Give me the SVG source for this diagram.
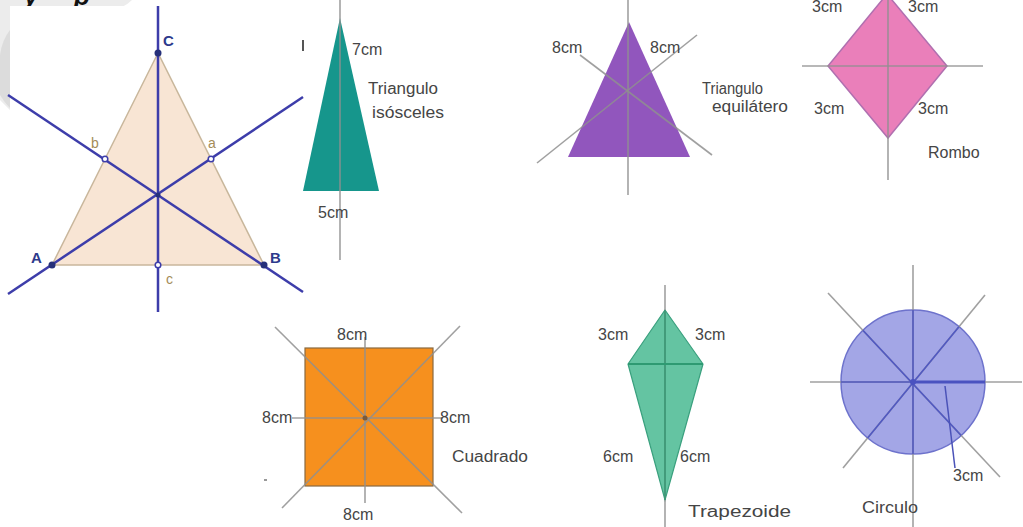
<svg xmlns="http://www.w3.org/2000/svg" width="1023" height="527" viewBox="0 0 1023 527">
<style>
text{font-family:"Liberation Sans",Arial,sans-serif}
.lbl{font-size:16px;fill:#454545}
.gl{stroke:#8f8f8f;stroke-width:1.6;fill:none;opacity:.85}
.bl{stroke:#3d3daa;stroke-width:2.5;fill:none}
.pt{fill:#26307a}
.op{fill:#ffffff;stroke:#3d3daa;stroke-width:1.5}
.vx{font-size:15px;font-weight:bold;fill:#2d3a8c}
.sm{font-size:14px;fill:#a48c58}
</style>
<defs>
<clipPath id="cc"><circle cx="913" cy="382" r="72"/></clipPath>
</defs>
<rect width="1023" height="527" fill="#ffffff"/>
<g id="watermark">
<path d="M0 0 H132 Q128 4 122 7 H10 V110 Q4 104 0 100 Z" fill="#ececec"/>
<path d="M10 30 Q2 40 0 55 V95 Q4 102 10 108 Z" fill="#dcdcdc"/>
<text x="24" y="5" font-size="26" font-weight="bold" font-style="italic" fill="#111">y</text>
<text x="74" y="5" font-size="26" font-weight="bold" font-style="italic" fill="#111">p</text>
</g>
<g id="triangle-abc">
<rect x="10" y="6" width="293" height="306" fill="#ffffff"/>
<polygon points="158,53 52,265 264,265" fill="#f8e5d4" stroke="#c9b79c" stroke-width="1.5"/>
<g id="connectors-abc">
<line class="bl" x1="158" y1="6" x2="158" y2="312"/>
<line class="bl" x1="8" y1="95" x2="303" y2="292"/>
<line class="bl" x1="8" y1="294" x2="303" y2="97"/>
</g>
<circle class="pt" cx="158" cy="53" r="3.5"/>
<circle class="pt" cx="52" cy="265" r="3.5"/>
<circle class="pt" cx="264" cy="265" r="3.5"/>
<circle class="pt" cx="158" cy="195" r="2.5"/>
<circle class="op" cx="105" cy="159" r="2.8"/>
<circle class="op" cx="211" cy="159" r="2.8"/>
<circle class="op" cx="158" cy="265" r="2.8"/>
<text class="vx" x="163" y="46">C</text>
<text class="vx" x="31" y="263">A</text>
<text class="vx" x="270" y="263">B</text>
<text class="sm" x="91" y="148">b</text>
<text class="sm" x="208" y="148">a</text>
<text class="sm" x="166" y="284" fill="#857a66">c</text>
</g>
<g id="isosceles">
<polygon points="340,18 303,191 379,191" fill="#16968c"/>
<line class="gl" x1="340" y1="0" x2="340" y2="260"/>
<rect x="302" y="40" width="2" height="11" fill="#555"/>
<text class="lbl" x="352" y="55">7cm</text>
<text class="lbl" x="368" y="94" textLength="70" lengthAdjust="spacingAndGlyphs">Triangulo</text>
<text class="lbl" x="372" y="118" textLength="72" lengthAdjust="spacingAndGlyphs">isósceles</text>
<text class="lbl" x="318" y="218">5cm</text>
</g>
<g id="equilateral">
<polygon points="629,22 568,157 690,157" fill="#9156bd"/>
<g id="connectors-eq">
<line class="gl" x1="628" y1="0" x2="628" y2="195"/>
<line class="gl" x1="537" y1="163" x2="697" y2="35"/>
<line class="gl" x1="580" y1="55" x2="712" y2="155"/>
</g>
<text class="lbl" x="552" y="53">8cm</text>
<text class="lbl" x="650" y="53">8cm</text>
<text class="lbl" x="702" y="94" textLength="61" lengthAdjust="spacingAndGlyphs">Triangulo</text>
<text class="lbl" x="712" y="112" textLength="76" lengthAdjust="spacingAndGlyphs">equilátero</text>
</g>
<g id="rhombus">
<polygon points="887,-6 947,66 888,138 828,66" fill="#ea7fba" stroke="#b070b0" stroke-width="1.5"/>
<g id="connectors-rh">
<line class="gl" x1="888" y1="0" x2="888" y2="180"/>
<line class="gl" x1="802" y1="66" x2="983" y2="66"/>
</g>
<text class="lbl" x="812" y="12">3cm</text>
<text class="lbl" x="908" y="12">3cm</text>
<text class="lbl" x="814" y="114">3cm</text>
<text class="lbl" x="918" y="114">3cm</text>
<text class="lbl" x="928" y="158">Rombo</text>
</g>
<g id="square">
<rect x="305" y="348" width="128" height="138" fill="#f6901e" stroke="#8a6a40" stroke-width="1.2"/>
<g id="connectors-sq">
<line class="gl" x1="365" y1="337" x2="365" y2="503"/>
<line class="gl" x1="292" y1="418" x2="443" y2="418"/>
<line class="gl" x1="275" y1="327" x2="462" y2="513"/>
<line class="gl" x1="460" y1="326" x2="282" y2="508"/>
</g>
<circle cx="365" cy="418" r="2.5" fill="#7a5a3a"/>
<rect x="264" y="479" width="3" height="2" fill="#999"/>
<text class="lbl" x="337" y="340">8cm</text>
<text class="lbl" x="262" y="423">8cm</text>
<text class="lbl" x="440" y="423">8cm</text>
<text class="lbl" x="452" y="462" textLength="76" lengthAdjust="spacingAndGlyphs">Cuadrado</text>
<text class="lbl" x="343" y="520">8cm</text>
</g>
<g id="kite">
<polygon points="665,310 703,364 665,500 628,364" fill="#64c4a2" stroke="#3aa07e" stroke-width="1.2"/>
<g id="connectors-kite">
<line class="gl" x1="665" y1="285" x2="665" y2="527"/>
<line x1="665" y1="310" x2="665" y2="500" stroke="#2e9a72" stroke-width="1.5"/>
<line x1="628" y1="364" x2="703" y2="364" stroke="#2e9a72" stroke-width="1.8"/>
</g>
<text class="lbl" x="598" y="340">3cm</text>
<text class="lbl" x="695" y="340">3cm</text>
<text class="lbl" x="603" y="462">6cm</text>
<text class="lbl" x="680" y="462">6cm</text>
<text class="lbl" x="688" y="517" textLength="103" lengthAdjust="spacingAndGlyphs">Trapezoide</text>
</g>
<g id="circle">
<circle cx="913" cy="382" r="72" fill="#a3a6e6" stroke="#6d72cc" stroke-width="1.5"/>
<g id="connectors-circle">
<line class="gl" x1="913" y1="265" x2="913" y2="527"/>
<line class="gl" x1="810" y1="382" x2="1022" y2="382"/>
<line class="gl" x1="828" y1="293" x2="1000" y2="477"/>
<line class="gl" x1="985" y1="295" x2="843" y2="468"/>
<g clip-path="url(#cc)" stroke="#5058c4" stroke-width="1.6">
<line x1="913" y1="265" x2="913" y2="527"/>
<line x1="810" y1="382" x2="1022" y2="382"/>
<line x1="828" y1="293" x2="1000" y2="477"/>
<line x1="985" y1="295" x2="843" y2="468"/>
</g>
<line x1="913" y1="382" x2="985" y2="382" stroke="#4a52c0" stroke-width="3"/>
<line x1="945" y1="386" x2="955" y2="468" stroke="#4a52b8" stroke-width="1.5"/>
</g>
<circle cx="913" cy="382" r="3" fill="#4a52c0"/>
<text class="lbl" x="953" y="481">3cm</text>
<text class="lbl" x="862" y="513" textLength="56" lengthAdjust="spacingAndGlyphs">Circulo</text>
</g>
</svg>
